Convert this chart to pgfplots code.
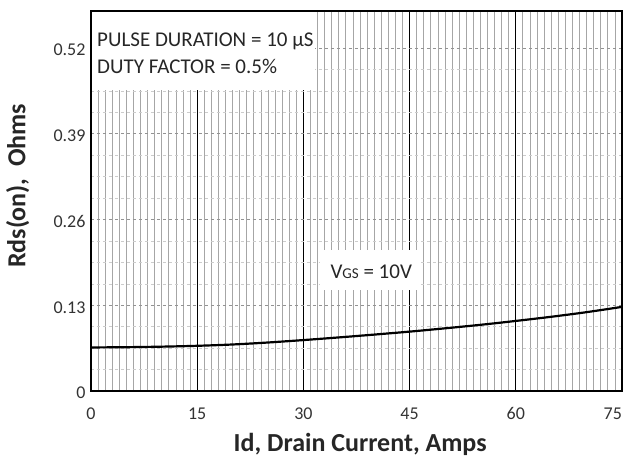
\documentclass[border=0pt]{standalone}
\usepackage{fontspec}
\setmainfont{Carlito}
\usepackage{pgfplots}
\pgfplotsset{compat=1.18}

\begin{document}
\begin{tikzpicture}
\path[use as bounding box] (-91pt,-69pt) rectangle (534pt,391pt);
\begin{axis}[
    scale only axis,
    width=531pt, height=380pt,
    xmin=0, xmax=75,
    ymin=0, ymax=0.576,
    xtick={0,15,30,45,60,75},
    xticklabels={0,15,30,45,60,\makebox[0pt][r]{75}},
    ytick={0,0.13,0.26,0.39,0.52},
    yticklabels={0,0.13,0.26,0.39,0.52},
    minor x tick num=14,
    minor y tick num=3,
    tick style={draw=none},
    xmajorgrids, xminorgrids, ymajorgrids, yminorgrids,
    major x grid style={black, line width=0.9pt},
    minor x grid style={gray!70, line width=0.8pt},
    major y grid style={gray!85, dashed, line width=0.6pt},
    minor y grid style={gray!40, dashed, line width=0.5pt},
    axis line style={line width=2.8pt},
    /pgf/number format/assume math mode=true,
    ticklabel style={font=\fontsize{18}{20}\selectfont, text=black!80},
    xticklabel style={anchor=base, yshift=-29pt},
    yticklabel style={xshift=-2pt, yshift=-2pt},
    xlabel={Id, Drain Current, Amps},
    ylabel={Rds(on),\ \ Ohms},
    label style={font=\fontsize{26}{29}\selectfont\bfseries, text=black!85},
    xlabel style={at={(axis description cs:0.507,0)}, anchor=base, yshift=-61pt},
    ylabel style={at={(axis description cs:-0.138,0.54)}, anchor=center},
]
\fill[white] (axis cs:0,0.456) rectangle (axis cs:31.65,0.576);
\fill[white] (axis cs:32.3,0.153) rectangle (axis cs:46.2,0.214);
\node[anchor=base west, inner sep=0pt, font=\fontsize{21}{24}\selectfont, text=black!85]
    at (axis cs:0.85,0.5215) {PULSE DURATION = 10 µS};
\node[anchor=base west, inner sep=0pt, font=\fontsize{21}{24}\selectfont, text=black!85]
    at (axis cs:0.85,0.482) {DUTY FACTOR = 0.5\%};
\node[anchor=base west, inner sep=0pt, font=\fontsize{21}{24}\selectfont, text=black!85]
    at (axis cs:33.8,0.170) {V{\fontsize{15}{17}\selectfont GS} = 10V};
\addplot[black, line width=2.2pt, smooth] coordinates {
    (0,0.066)(5,0.0664)(10,0.0672)(15,0.0685)(20,0.0705)(25,0.0735)
    (30,0.0772)(35,0.0812)(40,0.0855)(45,0.0900)(50,0.0950)(55,0.1003)
    (60,0.1062)(65,0.1125)(70,0.1195)(75,0.1275)
};
\draw[line width=2.8pt] (rel axis cs:0,0) rectangle (rel axis cs:1,1);
\end{axis}
\end{tikzpicture}
\end{document}
